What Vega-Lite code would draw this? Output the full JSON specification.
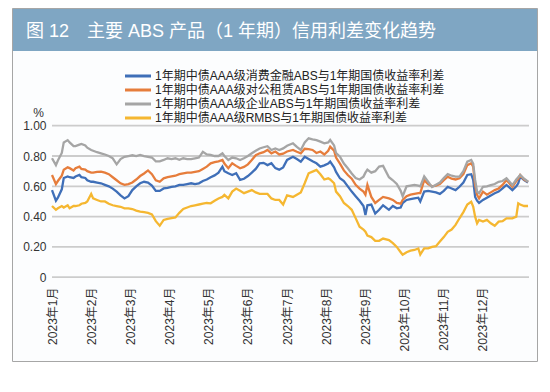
{
  "$schema": "https://vega.github.io/schema/vega-lite/v6.json",
  "background": "white",
  "autosize": {"type": "none"},
  "padding": {"left": 12, "top": 8, "right": 13, "bottom": 31},
  "width": 525,
  "height": 353,
  "config": {
    "font": "Liberation Sans, Noto Sans CJK SC"
  },
  "view": {
    "fill": {"gradient": "linear", "x1": 0, "y1": 0, "x2": 0, "y2": 1,
             "stops": [{"offset": 0, "color": "#7fa6c3"}, {"offset": 0.119, "color": "#7fa6c3"},
                       {"offset": 0.119, "color": "#fcfdfe"}, {"offset": 1, "color": "#fcfdfe"}]},
    "stroke": "#a6a6a6",
    "strokeWidth": 1
  },
  "title": {
    "text": "图 12　主要 ABS 产品（1 年期）信用利差变化趋势",
    "orient": "top",
    "anchor": "start",
    "frame": "group",
    "offset": -42,
    "dx": 14,
    "baseline": "middle",
    "fontSize": 18,
    "fontWeight": "normal",
    "color": "white"
  },
  "layer": [
    {
      "data": {"values": [{"利差": 0}, {"利差": 0.2}, {"利差": 0.4}, {"利差": 0.6}, {"利差": 0.8}, {"利差": 1.0}]},
      "mark": {"type": "rule", "color": "#cccccc", "strokeWidth": 1.8},
      "encoding": {
        "x": {"datum": 0, "type": "quantitative",
              "scale": {"domain": [-20.42, 247.58], "zero": false, "nice": false},
              "axis": {
                "values": [0, 20, 40, 60, 80, 100, 120, 140, 160, 180, 200, 220],
                "labelExpr": "'2023年' + (datum.value / 20 + 1) + '月'",
                "labelAngle": 270,
                "labelFontSize": 12,
                "labelColor": "#333333",
                "labelPadding": 5,
                "labelOverlap": false,
                "labelFlush": false,
                "labelBound": false,
                "offset": -79,
                "domain": false,
                "ticks": false,
                "grid": false,
                "title": null
              }},
        "x2": {"datum": 243.5},
        "y": {"field": "利差", "type": "quantitative",
              "scale": {"domain": [-0.553, 1.777], "zero": false, "nice": false},
              "axis": {
                "values": [0, 0.2, 0.4, 0.6, 0.8, 1.0],
                "labelExpr": "datum.value == 0 ? '0' : format(datum.value, '.2f')",
                "offset": -38,
                "domain": false,
                "ticks": false,
                "grid": false,
                "labelPadding": 4,
                "labelFontSize": 12,
                "labelColor": "#333333",
                "title": "%",
                "titleAngle": 0,
                "titleX": -12,
                "titleY": 104,
                "titleAlign": "center",
                "titleBaseline": "middle",
                "titleFontSize": 12,
                "titleFontWeight": "normal",
                "titleColor": "#333333"
              }}
      }
    },
    {
      "data": {"values": [
        {"序号": 0, "消费金融ABS": 0.575, "对公租赁ABS": 0.675, "企业ABS": 0.785, "RMBS": 0.47},
        {"序号": 2, "消费金融ABS": 0.505, "对公租赁ABS": 0.615, "企业ABS": 0.74, "RMBS": 0.445},
        {"序号": 3, "消费金融ABS": 0.525, "对公租赁ABS": 0.635, "企业ABS": 0.77, "RMBS": 0.455},
        {"序号": 5, "消费金融ABS": 0.58, "对公租赁ABS": 0.67, "企业ABS": 0.82, "RMBS": 0.47},
        {"序号": 6, "消费金融ABS": 0.655, "对公租赁ABS": 0.71, "企业ABS": 0.89, "RMBS": 0.46},
        {"序号": 8, "消费金融ABS": 0.665, "对公租赁ABS": 0.725, "企业ABS": 0.905, "RMBS": 0.475},
        {"序号": 9, "消费金融ABS": 0.66, "对公租赁ABS": 0.72, "企业ABS": 0.89, "RMBS": 0.455},
        {"序号": 11, "消费金融ABS": 0.655, "对公租赁ABS": 0.705, "企业ABS": 0.865, "RMBS": 0.47},
        {"序号": 12, "消费金融ABS": 0.665, "对公租赁ABS": 0.72, "企业ABS": 0.865, "RMBS": 0.47},
        {"序号": 14, "消费金融ABS": 0.675, "对公租赁ABS": 0.73, "企业ABS": 0.875, "RMBS": 0.475},
        {"序号": 15, "消费金融ABS": 0.66, "对公租赁ABS": 0.715, "企业ABS": 0.88, "RMBS": 0.485},
        {"序号": 17, "消费金融ABS": 0.655, "对公租赁ABS": 0.71, "企业ABS": 0.87, "RMBS": 0.49},
        {"序号": 18, "消费金融ABS": 0.64, "对公租赁ABS": 0.70, "企业ABS": 0.855, "RMBS": 0.50},
        {"序号": 20, "消费金融ABS": 0.63, "对公租赁ABS": 0.69, "企业ABS": 0.84, "RMBS": 0.55},
        {"序号": 21, "消费金融ABS": 0.63, "对公租赁ABS": 0.69, "企业ABS": 0.835, "RMBS": 0.52},
        {"序号": 23, "消费金融ABS": 0.625, "对公租赁ABS": 0.695, "企业ABS": 0.825, "RMBS": 0.51},
        {"序号": 25, "消费金融ABS": 0.62, "对公租赁ABS": 0.697, "企业ABS": 0.818, "RMBS": 0.50},
        {"序号": 27, "消费金融ABS": 0.61, "对公租赁ABS": 0.69, "企业ABS": 0.81, "RMBS": 0.50},
        {"序号": 29, "消费金融ABS": 0.60, "对公租赁ABS": 0.68, "企业ABS": 0.80, "RMBS": 0.485},
        {"序号": 31, "消费金融ABS": 0.585, "对公租赁ABS": 0.66, "企业ABS": 0.785, "RMBS": 0.475},
        {"序号": 33, "消费金融ABS": 0.565, "对公租赁ABS": 0.64, "企业ABS": 0.745, "RMBS": 0.47},
        {"序号": 35, "消费金融ABS": 0.54, "对公租赁ABS": 0.62, "企业ABS": 0.78, "RMBS": 0.465},
        {"序号": 37, "消费金融ABS": 0.52, "对公租赁ABS": 0.61, "企业ABS": 0.795, "RMBS": 0.455},
        {"序号": 39, "消费金融ABS": 0.535, "对公租赁ABS": 0.615, "企业ABS": 0.80, "RMBS": 0.455},
        {"序号": 41, "消费金融ABS": 0.575, "对公租赁ABS": 0.625, "企业ABS": 0.805, "RMBS": 0.45},
        {"序号": 43, "消费金融ABS": 0.60, "对公租赁ABS": 0.645, "企业ABS": 0.80, "RMBS": 0.44},
        {"序号": 45, "消费金融ABS": 0.62, "对公租赁ABS": 0.668, "企业ABS": 0.807, "RMBS": 0.433},
        {"序号": 47, "消费金融ABS": 0.63, "对公租赁ABS": 0.685, "企业ABS": 0.80, "RMBS": 0.43},
        {"序号": 49, "消费金融ABS": 0.625, "对公租赁ABS": 0.705, "企业ABS": 0.795, "RMBS": 0.425},
        {"序号": 51, "消费金融ABS": 0.605, "对公租赁ABS": 0.68, "企业ABS": 0.79, "RMBS": 0.415},
        {"序号": 53, "消费金融ABS": 0.57, "对公租赁ABS": 0.64, "企业ABS": 0.765, "RMBS": 0.37},
        {"序号": 55, "消费金融ABS": 0.57, "对公租赁ABS": 0.63, "企业ABS": 0.765, "RMBS": 0.34},
        {"序号": 57, "消费金融ABS": 0.586, "对公租赁ABS": 0.653, "企业ABS": 0.774, "RMBS": 0.378},
        {"序号": 59, "消费金融ABS": 0.59, "对公租赁ABS": 0.66, "企业ABS": 0.785, "RMBS": 0.385},
        {"序号": 61, "消费金融ABS": 0.597, "对公租赁ABS": 0.665, "企业ABS": 0.78, "RMBS": 0.39},
        {"序号": 63, "消费金融ABS": 0.60, "对公租赁ABS": 0.67, "企业ABS": 0.785, "RMBS": 0.395},
        {"序号": 65, "消费金融ABS": 0.61, "对公租赁ABS": 0.68, "企业ABS": 0.775, "RMBS": 0.425},
        {"序号": 67, "消费金融ABS": 0.61, "对公租赁ABS": 0.685, "企业ABS": 0.785, "RMBS": 0.45},
        {"序号": 69, "消费金融ABS": 0.615, "对公租赁ABS": 0.69, "企业ABS": 0.78, "RMBS": 0.46},
        {"序号": 71, "消费金融ABS": 0.62, "对公租赁ABS": 0.69, "企业ABS": 0.78, "RMBS": 0.47},
        {"序号": 73, "消费金融ABS": 0.615, "对公租赁ABS": 0.695, "企业ABS": 0.785, "RMBS": 0.475},
        {"序号": 75, "消费金融ABS": 0.62, "对公租赁ABS": 0.70, "企业ABS": 0.79, "RMBS": 0.48},
        {"序号": 77, "消费金融ABS": 0.635, "对公租赁ABS": 0.715, "企业ABS": 0.828, "RMBS": 0.485},
        {"序号": 79, "消费金融ABS": 0.645, "对公租赁ABS": 0.73, "企业ABS": 0.81, "RMBS": 0.49},
        {"序号": 81, "消费金融ABS": 0.66, "对公租赁ABS": 0.752, "企业ABS": 0.807, "RMBS": 0.488},
        {"序号": 83, "消费金融ABS": 0.672, "对公租赁ABS": 0.76, "企业ABS": 0.80, "RMBS": 0.505},
        {"序号": 85, "消费金融ABS": 0.69, "对公租赁ABS": 0.765, "企业ABS": 0.80, "RMBS": 0.52},
        {"序号": 87, "消费金融ABS": 0.73, "对公租赁ABS": 0.774, "企业ABS": 0.818, "RMBS": 0.53},
        {"序号": 88, "消费金融ABS": 0.70, "对公租赁ABS": 0.75, "企业ABS": 0.80, "RMBS": 0.543},
        {"序号": 90, "消费金融ABS": 0.686, "对公租赁ABS": 0.719, "企业ABS": 0.774, "RMBS": 0.52},
        {"序号": 92, "消费金融ABS": 0.675, "对公租赁ABS": 0.752, "企业ABS": 0.79, "RMBS": 0.565},
        {"序号": 94, "消费金融ABS": 0.686, "对公租赁ABS": 0.735, "企业ABS": 0.785, "RMBS": 0.585},
        {"序号": 96, "消费金融ABS": 0.642, "对公租赁ABS": 0.719, "企业ABS": 0.774, "RMBS": 0.57},
        {"序号": 98, "消费金融ABS": 0.65, "对公租赁ABS": 0.728, "企业ABS": 0.785, "RMBS": 0.555},
        {"序号": 100, "消费金融ABS": 0.668, "对公租赁ABS": 0.745, "企业ABS": 0.80, "RMBS": 0.565},
        {"序号": 102, "消费金融ABS": 0.69, "对公租赁ABS": 0.774, "企业ABS": 0.818, "RMBS": 0.575},
        {"序号": 104, "消费金融ABS": 0.715, "对公租赁ABS": 0.805, "企业ABS": 0.835, "RMBS": 0.56},
        {"序号": 106, "消费金融ABS": 0.752, "对公租赁ABS": 0.818, "企业ABS": 0.85, "RMBS": 0.55},
        {"序号": 108, "消费金融ABS": 0.755, "对公租赁ABS": 0.825, "企业ABS": 0.858, "RMBS": 0.55},
        {"序号": 110, "消费金融ABS": 0.74, "对公租赁ABS": 0.84, "企业ABS": 0.865, "RMBS": 0.55},
        {"序号": 112, "消费金融ABS": 0.752, "对公租赁ABS": 0.818, "企业ABS": 0.84, "RMBS": 0.52},
        {"序号": 114, "消费金融ABS": 0.72, "对公租赁ABS": 0.83, "企业ABS": 0.85, "RMBS": 0.51},
        {"序号": 116, "消费金融ABS": 0.71, "对公租赁ABS": 0.81, "企业ABS": 0.84, "RMBS": 0.51},
        {"序号": 118, "消费金融ABS": 0.725, "对公租赁ABS": 0.815, "企业ABS": 0.85, "RMBS": 0.48},
        {"序号": 120, "消费金融ABS": 0.774, "对公租赁ABS": 0.83, "企业ABS": 0.868, "RMBS": 0.54},
        {"序号": 123, "消费金融ABS": 0.795, "对公租赁ABS": 0.84, "企业ABS": 0.884, "RMBS": 0.53},
        {"序号": 125, "消费金融ABS": 0.78, "对公租赁ABS": 0.828, "企业ABS": 0.86, "RMBS": 0.545},
        {"序号": 127, "消费金融ABS": 0.763, "对公租赁ABS": 0.818, "企业ABS": 0.84, "RMBS": 0.56},
        {"序号": 129, "消费金融ABS": 0.795, "对公租赁ABS": 0.848, "企业ABS": 0.89, "RMBS": 0.62},
        {"序号": 131, "消费金融ABS": 0.78, "对公租赁ABS": 0.845, "企业ABS": 0.917, "RMBS": 0.686},
        {"序号": 133, "消费金融ABS": 0.765, "对公租赁ABS": 0.84, "企业ABS": 0.91, "RMBS": 0.697},
        {"序号": 135, "消费金融ABS": 0.752, "对公租赁ABS": 0.82, "企业ABS": 0.905, "RMBS": 0.708},
        {"序号": 137, "消费金融ABS": 0.73, "对公租赁ABS": 0.83, "企业ABS": 0.895, "RMBS": 0.68},
        {"序号": 139, "消费金融ABS": 0.738, "对公租赁ABS": 0.81, "企业ABS": 0.884, "RMBS": 0.645},
        {"序号": 141, "消费金融ABS": 0.75, "对公租赁ABS": 0.835, "企业ABS": 0.89, "RMBS": 0.653},
        {"序号": 142, "消费金融ABS": 0.763, "对公租赁ABS": 0.862, "企业ABS": 0.906, "RMBS": 0.645},
        {"序号": 144, "消费金融ABS": 0.725, "对公租赁ABS": 0.835, "企业ABS": 0.87, "RMBS": 0.62},
        {"序号": 145, "消费金融ABS": 0.695, "对公租赁ABS": 0.79, "企业ABS": 0.82, "RMBS": 0.565},
        {"序号": 147, "消费金融ABS": 0.653, "对公租赁ABS": 0.75, "企业ABS": 0.795, "RMBS": 0.535},
        {"序号": 149, "消费金融ABS": 0.635, "对公租赁ABS": 0.705, "企业ABS": 0.75, "RMBS": 0.49},
        {"序号": 151, "消费金融ABS": 0.60, "对公租赁ABS": 0.675, "企业ABS": 0.719, "RMBS": 0.47},
        {"序号": 153, "消费金融ABS": 0.565, "对公租赁ABS": 0.65, "企业ABS": 0.685, "RMBS": 0.445},
        {"序号": 155, "消费金融ABS": 0.535, "对公租赁ABS": 0.61, "企业ABS": 0.655, "RMBS": 0.39},
        {"序号": 157, "消费金融ABS": 0.505, "对公租赁ABS": 0.585, "企业ABS": 0.645, "RMBS": 0.333},
        {"序号": 159, "消费金融ABS": 0.47, "对公租赁ABS": 0.565, "企业ABS": 0.664, "RMBS": 0.315},
        {"序号": 160, "消费金融ABS": 0.41, "对公租赁ABS": 0.545, "企业ABS": 0.69, "RMBS": 0.30},
        {"序号": 161, "消费金融ABS": 0.475, "对公租赁ABS": 0.61, "企业ABS": 0.71, "RMBS": 0.275},
        {"序号": 163, "消费金融ABS": 0.48, "对公租赁ABS": 0.53, "企业ABS": 0.69, "RMBS": 0.265},
        {"序号": 165, "消费金融ABS": 0.42, "对公租赁ABS": 0.49, "企业ABS": 0.70, "RMBS": 0.24},
        {"序号": 167, "消费金融ABS": 0.445, "对公租赁ABS": 0.51, "企业ABS": 0.73, "RMBS": 0.24},
        {"序号": 169, "消费金融ABS": 0.475, "对公租赁ABS": 0.53, "企业ABS": 0.735, "RMBS": 0.255},
        {"序号": 172, "消费金融ABS": 0.445, "对公租赁ABS": 0.52, "企业ABS": 0.66, "RMBS": 0.245},
        {"序号": 174, "消费金融ABS": 0.47, "对公租赁ABS": 0.51, "企业ABS": 0.64, "RMBS": 0.225},
        {"序号": 176, "消费金融ABS": 0.455, "对公租赁ABS": 0.49, "企业ABS": 0.615, "RMBS": 0.20},
        {"序号": 178, "消费金融ABS": 0.46, "对公租赁ABS": 0.485, "企业ABS": 0.57, "RMBS": 0.165},
        {"序号": 179, "消费金融ABS": 0.49, "对公租赁ABS": 0.51, "企业ABS": 0.535, "RMBS": 0.148},
        {"序号": 181, "消费金融ABS": 0.51, "对公租赁ABS": 0.535, "企业ABS": 0.60, "RMBS": 0.165},
        {"序号": 183, "消费金融ABS": 0.515, "对公租赁ABS": 0.545, "企业ABS": 0.605, "RMBS": 0.175},
        {"序号": 185, "消费金融ABS": 0.52, "对公租赁ABS": 0.55, "企业ABS": 0.61, "RMBS": 0.18},
        {"序号": 187, "消费金融ABS": 0.525, "对公租赁ABS": 0.555, "企业ABS": 0.605, "RMBS": 0.19},
        {"序号": 188, "消费金融ABS": 0.50, "对公租赁ABS": 0.555, "企业ABS": 0.60, "RMBS": 0.15},
        {"序号": 190, "消费金融ABS": 0.565, "对公租赁ABS": 0.64, "企业ABS": 0.665, "RMBS": 0.19},
        {"序号": 192, "消费金融ABS": 0.57, "对公租赁ABS": 0.615, "企业ABS": 0.63, "RMBS": 0.19},
        {"序号": 194, "消费金融ABS": 0.565, "对公租赁ABS": 0.60, "企业ABS": 0.595, "RMBS": 0.20},
        {"序号": 196, "消费金融ABS": 0.56, "对公租赁ABS": 0.605, "企业ABS": 0.61, "RMBS": 0.205},
        {"序号": 198, "消费金融ABS": 0.55, "对公租赁ABS": 0.615, "企业ABS": 0.625, "RMBS": 0.235},
        {"序号": 200, "消费金融ABS": 0.57, "对公租赁ABS": 0.64, "企业ABS": 0.655, "RMBS": 0.265},
        {"序号": 202, "消费金融ABS": 0.597, "对公租赁ABS": 0.664, "企业ABS": 0.68, "RMBS": 0.30},
        {"序号": 204, "消费金融ABS": 0.586, "对公租赁ABS": 0.65, "企业ABS": 0.67, "RMBS": 0.315},
        {"序号": 206, "消费金融ABS": 0.575, "对公租赁ABS": 0.645, "企业ABS": 0.664, "RMBS": 0.345},
        {"序号": 208, "消费金融ABS": 0.597, "对公租赁ABS": 0.653, "企业ABS": 0.664, "RMBS": 0.389},
        {"序号": 210, "消费金融ABS": 0.625, "对公租赁ABS": 0.68, "企业ABS": 0.70, "RMBS": 0.43},
        {"序号": 212, "消费金融ABS": 0.675, "对公租赁ABS": 0.74, "企业ABS": 0.763, "RMBS": 0.48},
        {"序号": 214, "消费金融ABS": 0.68, "对公租赁ABS": 0.752, "企业ABS": 0.774, "RMBS": 0.498},
        {"序号": 215, "消费金融ABS": 0.642, "对公租赁ABS": 0.73, "企业ABS": 0.75, "RMBS": 0.466},
        {"序号": 216, "消费金融ABS": 0.53, "对公租赁ABS": 0.609, "企业ABS": 0.642, "RMBS": 0.40},
        {"序号": 217, "消费金融ABS": 0.505, "对公租赁ABS": 0.543, "企业ABS": 0.565, "RMBS": 0.356},
        {"序号": 218, "消费金融ABS": 0.49, "对公租赁ABS": 0.52, "企业ABS": 0.554, "RMBS": 0.378},
        {"序号": 220, "消费金融ABS": 0.51, "对公租赁ABS": 0.565, "企业ABS": 0.597, "RMBS": 0.367},
        {"序号": 222, "消费金融ABS": 0.525, "对公租赁ABS": 0.545, "企业ABS": 0.60, "RMBS": 0.378},
        {"序号": 224, "消费金融ABS": 0.54, "对公租赁ABS": 0.56, "企业ABS": 0.608, "RMBS": 0.356},
        {"序号": 226, "消费金融ABS": 0.554, "对公租赁ABS": 0.575, "企业ABS": 0.615, "RMBS": 0.34},
        {"序号": 228, "消费金融ABS": 0.565, "对公租赁ABS": 0.586, "企业ABS": 0.63, "RMBS": 0.367},
        {"序号": 230, "消费金融ABS": 0.586, "对公租赁ABS": 0.609, "企业ABS": 0.635, "RMBS": 0.37},
        {"序号": 232, "消费金融ABS": 0.609, "对公租赁ABS": 0.642, "企业ABS": 0.653, "RMBS": 0.389},
        {"序号": 235, "消费金融ABS": 0.575, "对公租赁ABS": 0.597, "企业ABS": 0.608, "RMBS": 0.389},
        {"序号": 237, "消费金融ABS": 0.60, "对公租赁ABS": 0.635, "企业ABS": 0.645, "RMBS": 0.40},
        {"序号": 238, "消费金融ABS": 0.62, "对公租赁ABS": 0.65, "企业ABS": 0.66, "RMBS": 0.488},
        {"序号": 239, "消费金融ABS": 0.664, "对公租赁ABS": 0.675, "企业ABS": 0.675, "RMBS": 0.48},
        {"序号": 241, "消费金融ABS": 0.642, "对公租赁ABS": 0.645, "企业ABS": 0.65, "RMBS": 0.47},
        {"序号": 243, "消费金融ABS": 0.625, "对公租赁ABS": 0.63, "企业ABS": 0.63, "RMBS": 0.47}
      ]},
      "transform": [
        {"fold": ["消费金融ABS", "对公租赁ABS", "企业ABS", "RMBS"], "as": ["系列", "利差"]}
      ],
      "mark": {"type": "line", "strokeWidth": 2.3},
      "encoding": {
        "x": {"field": "序号", "type": "quantitative",
              "scale": {"domain": [-20.42, 247.58], "zero": false, "nice": false},
              "axis": {
                "values": [0, 20, 40, 60, 80, 100, 120, 140, 160, 180, 200, 220],
                "labelExpr": "'2023年' + (datum.value / 20 + 1) + '月'",
                "labelAngle": 270,
                "labelFontSize": 12,
                "labelColor": "#333333",
                "labelPadding": 5,
                "labelOverlap": false,
                "labelFlush": false,
                "labelBound": false,
                "offset": -79,
                "domain": false,
                "ticks": false,
                "grid": false,
                "title": null
              }},
        "y": {"field": "利差", "type": "quantitative",
              "scale": {"domain": [-0.553, 1.777], "zero": false, "nice": false},
              "axis": {
                "values": [0, 0.2, 0.4, 0.6, 0.8, 1.0],
                "labelExpr": "datum.value == 0 ? '0' : format(datum.value, '.2f')",
                "offset": -38,
                "domain": false,
                "ticks": false,
                "grid": false,
                "labelPadding": 4,
                "labelFontSize": 12,
                "labelColor": "#333333",
                "title": "%",
                "titleAngle": 0,
                "titleX": -12,
                "titleY": 104,
                "titleAlign": "center",
                "titleBaseline": "middle",
                "titleFontSize": 12,
                "titleFontWeight": "normal",
                "titleColor": "#333333"
              }},
        "color": {"field": "系列", "type": "nominal",
                  "scale": {"domain": ["消费金融ABS", "对公租赁ABS", "企业ABS", "RMBS"],
                            "range": ["#3f6fb8", "#e67d3c", "#a5a5a5", "#f5b731"]},
                  "legend": {
                    "orient": "none",
                    "legendX": 118,
                    "legendY": 60,
                    "direction": "vertical",
                    "title": null,
                    "symbolType": "M-2,0H2",
                    "symbolSize": 169,
                    "symbolStrokeWidth": 3,
                    "labelFontSize": 12,
                    "labelColor": "#222222",
                    "labelOffset": 9,
                    "labelLimit": 400,
                    "rowPadding": 0,
                    "labelExpr": "'1年期中债AAA级' + datum.label + '与1年期国债收益率利差'"
                  }}
      }
    }
  ]
}
